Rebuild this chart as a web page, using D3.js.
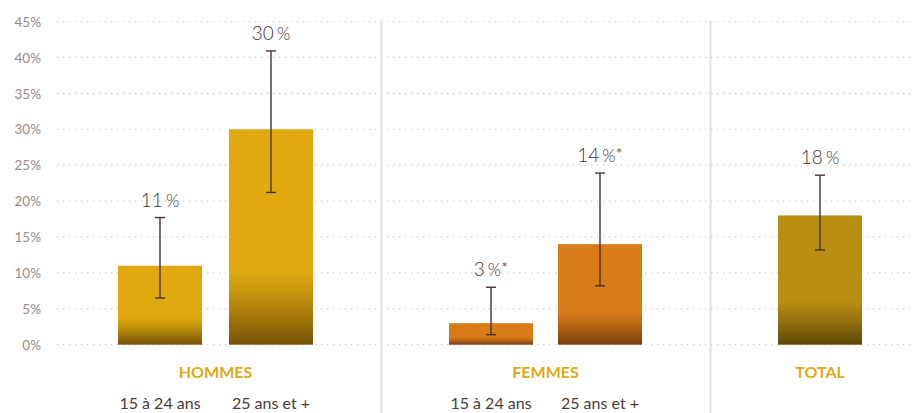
<!DOCTYPE html>
<html><head><meta charset="utf-8">
<script src="https://cdn.jsdelivr.net/npm/d3@7"></script>
<style>
html,body{margin:0;padding:0;background:#fff;}
svg{display:block;}
</style></head>
<body>
<svg id="chart" width="914" height="413"></svg>
<script>
// ---- data ----
const groups = ["HOMMES", "FEMMES", "TOTAL"];
const categories = ["H 15 à 24 ans", "H 25 ans et +", "F 15 à 24 ans", "F 25 ans et +", "Total"];
const subLabels = ["15 à 24 ans", "25 ans et +", "15 à 24 ans", "25 ans et +", ""];
const groupOf = ["HOMMES", "HOMMES", "FEMMES", "FEMMES", "TOTAL"];
const values = [11, 30, 3, 14, 18];
const errLow = [6.5, 21.2, 1.4, 8.2, 13.2];
const errHigh = [17.7, 40.9, 8.0, 23.9, 23.6];
const valueLabels = ["11", "30", "3", "14", "18"];
const valueStars = ["", "", "*", "*", ""];
const yTicks = [0, 5, 10, 15, 20, 25, 30, 35, 40, 45];

// ---- styles ----
const baseColors = {HOMMES: "#e0a90f", FEMMES: "#d97c18", TOTAL: "#b88e12"};
const darkColors = {HOMMES: "#765406", FEMMES: "#7a3f10", TOTAL: "#5e4708"};

const svg = d3.select("#chart");
const y = d3.scaleLinear().domain([0, 45]).range([344.7, 21.5]);
const x = d3.scaleOrdinal().domain(categories).range([160, 271, 491, 600, 820]);
const barW = 84;

// gradients
const defs = svg.append("defs");
groups.forEach(g => {
  const lg = defs.append("linearGradient").attr("id", "grad-" + g)
    .attr("x1", 0).attr("y1", 0).attr("x2", 0).attr("y2", 1);
  lg.append("stop").attr("offset", 0).attr("stop-color", baseColors[g]);
  lg.append("stop").attr("offset", 0.66).attr("stop-color", baseColors[g]);
  lg.append("stop").attr("offset", 0.8).attr("stop-color", d3.interpolateRgb(baseColors[g], darkColors[g])(0.35));
  lg.append("stop").attr("offset", 1).attr("stop-color", darkColors[g]);
});

// y axis
const yAxis = d3.axisLeft(y).tickValues(yTicks).tickSize(0).tickPadding(0)
  .tickFormat(d => d + "%");
const ax = svg.append("g").attr("transform", "translate(41,0)").call(yAxis);
ax.select(".domain").remove();
ax.selectAll("text").attr("font-family", "Lato, sans-serif").attr("font-size", 13.5)
  .attr("fill", "#978c89").attr("dy", "0.35em");

// gridlines
svg.append("g").selectAll("line").data(yTicks).join("line")
  .attr("x1", 57).attr("x2", 914)
  .attr("y1", d => y(d)).attr("y2", d => y(d))
  .attr("stroke", "#cdc8c6").attr("stroke-width", 1.2)
  .attr("stroke-dasharray", "1.3,4.7");

// separators
svg.append("g").selectAll("line").data([381.5, 710.5]).join("line")
  .attr("x1", d => d).attr("x2", d => d)
  .attr("y1", y(45) - 1).attr("y2", 413)
  .attr("stroke", "#e3dfdd").attr("stroke-width", 2);

// bars
svg.append("g").selectAll("rect").data(categories).join("rect")
  .attr("x", d => x(d) - barW / 2)
  .attr("width", barW)
  .attr("y", (d, i) => y(values[i]))
  .attr("height", (d, i) => y(0) - y(values[i]))
  .attr("fill", (d, i) => `url(#grad-${groupOf[i]})`);

// error bars
const eb = svg.append("g").attr("stroke", "#47332e").attr("stroke-width", 1.4);
categories.forEach((c, i) => {
  const cx = x(c);
  eb.append("line").attr("x1", cx).attr("x2", cx).attr("y1", y(errHigh[i])).attr("y2", y(errLow[i]));
  eb.append("line").attr("x1", cx - 5).attr("x2", cx + 5).attr("y1", y(errHigh[i])).attr("y2", y(errHigh[i]));
  eb.append("line").attr("x1", cx - 5).attr("x2", cx + 5).attr("y1", y(errLow[i])).attr("y2", y(errLow[i]));
});

// value labels
const vl = svg.append("g").attr("font-family", "Lato, sans-serif").attr("font-weight", 300)
  .attr("fill", "#45352f").attr("text-anchor", "middle");
categories.forEach((c, i) => {
  const t = vl.append("text").attr("x", x(c)).attr("y", y(errHigh[i]) - 11);
  t.append("tspan").attr("font-size", 19).text(valueLabels[i]);
  t.append("tspan").attr("font-size", 17).attr("dx", 3).text("%");
  if (valueStars[i]) t.append("tspan").attr("font-size", 17).attr("dy", -1).text(valueStars[i]);
});

// group labels
const groupCenters = {
  HOMMES: (x(categories[0]) + x(categories[1])) / 2,
  FEMMES: (x(categories[2]) + x(categories[3])) / 2,
  TOTAL: x(categories[4])
};
svg.append("g").selectAll("text").data(groups).join("text")
  .attr("x", d => groupCenters[d]).attr("y", 377.5)
  .attr("text-anchor", "middle")
  .attr("font-family", "Lato, sans-serif").attr("font-weight", 700).attr("font-size", 16)
  .attr("fill", "#e0aa12").text(d => d);

// sub labels
svg.append("g").selectAll("text").data(categories).join("text")
  .attr("x", d => x(d)).attr("y", 409)
  .attr("text-anchor", "middle")
  .attr("font-family", "Lato, sans-serif").attr("font-size", 16)
  .attr("fill", "#4a3b37").text((d, i) => subLabels[i]);
</script>
</body></html>
